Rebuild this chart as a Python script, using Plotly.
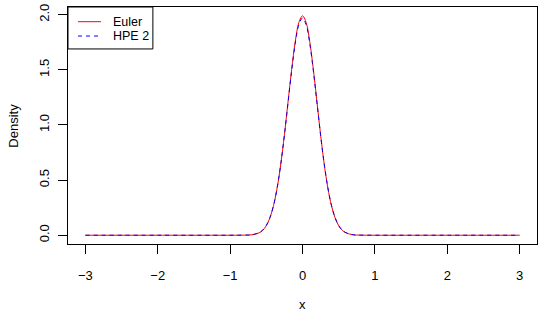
import plotly.graph_objects as go

# values
x_vals = [-3.0, -2.0, -1.0, -0.8, -0.7, -0.6, -0.55, -0.5, -0.45, -0.4, -0.35, -0.3, -0.25,
          -0.2, -0.15, -0.1, -0.05, 0.0, 0.05, 0.1, 0.15, 0.2, 0.25, 0.3, 0.35, 0.4,
          0.45, 0.5, 0.55, 0.6, 0.7, 0.8, 1.0, 2.0, 3.0]
euler = [0.0, 0.0, 0.0, 0.001, 0.004, 0.022, 0.045, 0.087, 0.158, 0.269, 0.430, 0.646, 0.911,
         1.207, 1.502, 1.756, 1.930, 1.990, 1.930, 1.756, 1.502, 1.207, 0.911, 0.646, 0.430, 0.269,
         0.158, 0.087, 0.045, 0.022, 0.004, 0.001, 0.0, 0.0, 0.0]
hpe2 = [0.0, 0.0, 0.0, 0.001, 0.004, 0.023, 0.046, 0.088, 0.160, 0.271, 0.432, 0.646, 0.908,
        1.200, 1.490, 1.740, 1.910, 1.970, 1.910, 1.740, 1.490, 1.200, 0.908, 0.646, 0.432, 0.271,
        0.160, 0.088, 0.046, 0.023, 0.004, 0.001, 0.0, 0.0, 0.0]
series_names = ["Euler", "HPE 2"]
x_ticks = [-3, -2, -1, 0, 1, 2, 3]
x_tick_text = ["\u22123", "\u22122", "\u22121", "0", "1", "2", "3"]
y_ticks = [0.0, 0.5, 1.0, 1.5, 2.0]
y_tick_text = ["0.0", "0.5", "1.0", "1.5", "2.0"]

FONT = "Liberation Sans, Arial, sans-serif"
FS = 13
colors = ["red", "blue"]
dashes = ["solid", "4px,4px"]

fig = go.Figure()
for name, ys, c, d in zip(series_names, [euler, hpe2], colors, dashes):
    fig.add_trace(go.Scatter(x=x_vals, y=ys, mode="lines", name=name,
                             line=dict(color=c, width=1, dash=d, shape="spline")))

# legend drawn manually (R style box)
shapes = [dict(type="rect", xref="paper", yref="paper", x0=0, x1=0.181, y0=0.823, y1=1.0,
               line=dict(color="black", width=1), fillcolor="white", layer="above")]
annotations = []
for i, (name, c, d) in enumerate(zip(series_names, colors, dashes)):
    yy = 0.938 - i * 0.0605
    shapes.append(dict(type="line", xref="paper", yref="paper", x0=0.0213, x1=0.0704,
                       y0=yy, y1=yy, line=dict(color=c, width=1, dash=d), layer="above"))
    annotations.append(dict(text=name, xref="paper", yref="paper", x=0.0938, y=yy,
                            xanchor="left", yanchor="middle", showarrow=False, borderpad=0,
                            font=dict(family=FONT, size=12.5, color="black")))
annotations.append(dict(text="x", xref="paper", yref="paper", x=0.5, y=-0.257,
                        xanchor="center", yanchor="middle", showarrow=False,
                        font=dict(family=FONT, size=FS, color="black")))
annotations.append(dict(text="Density", xref="paper", yref="paper", x=-0.117, y=0.5,
                        xanchor="center", yanchor="middle", textangle=-90, showarrow=False,
                        font=dict(family=FONT, size=FS, color="black")))

fig.update_layout(
    width=540, height=317,
    margin=dict(l=68, r=3, t=7, b=73),
    paper_bgcolor="white", plot_bgcolor="white",
    font=dict(family=FONT, size=FS, color="black"),
    showlegend=False,
    shapes=shapes, annotations=annotations,
    xaxis=dict(range=[-3.24, 3.24], tickvals=x_ticks, ticktext=x_tick_text,
               showgrid=False, zeroline=False, showline=True, mirror=True,
               linecolor="black", linewidth=1, ticks="outside", ticklen=9,
               tickcolor="black", ticklabelstandoff=10,
               tickfont=dict(family=FONT, size=FS, color="black")),
    yaxis=dict(range=[-0.0796, 2.07], tickvals=y_ticks, ticktext=y_tick_text,
               tickangle=-90,
               showgrid=False, zeroline=False, showline=True, mirror=True,
               linecolor="black", linewidth=1, ticks="outside", ticklen=9,
               tickcolor="black", ticklabelstandoff=4,
               tickfont=dict(family=FONT, size=FS, color="black")),
)
fig.write_html("out.html")
